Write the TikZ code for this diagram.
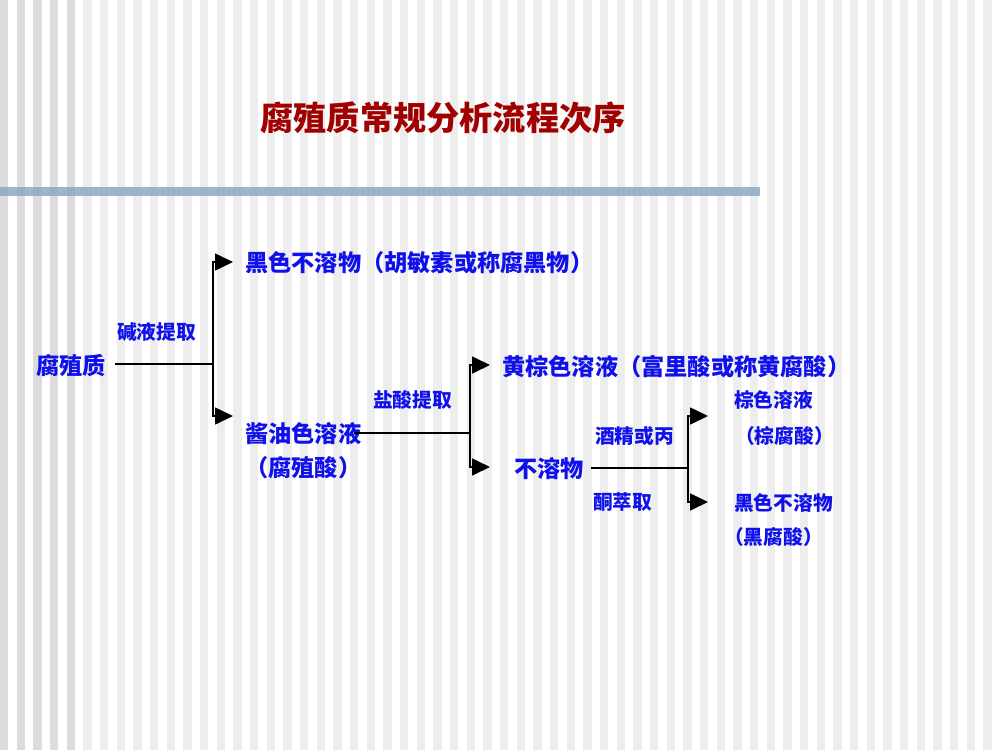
\documentclass[tikz,border=0pt]{standalone}
\usepackage{fontspec}
\newfontfamily\cjk{Noto Sans CJK SC}
\usetikzlibrary{arrows.meta}
\definecolor{txtblue}{RGB}{16,16,235}
\definecolor{titlered}{RGB}{160,0,0}
\definecolor{stripedark}{RGB}{220,220,220}
\definecolor{stripelight}{RGB}{237,237,237}
\definecolor{barblue}{RGB}{140,168,196}
\tikzset{
  main/.style={font=\cjk\bfseries\fontsize{23.2}{25}\selectfont, text=txtblue, inner sep=0pt, anchor=west},
  small/.style={font=\cjk\bfseries\fontsize{19.7}{21}\selectfont, text=txtblue, inner sep=0pt, anchor=west},
  titletext/.style={font=\cjk\bfseries\fontsize{33.2}{35}\selectfont, text=titlered, inner sep=0pt},
  conn/.style={line width=1.6pt, black},
  arr/.style={line width=1.6pt, black, -{Triangle[length=18pt,width=17pt]}},
}
\begin{document}
\begin{tikzpicture}[x=1pt,y=-1pt]
\useasboundingbox (0,0) rectangle (1000,750);
\fill[white] (0,0) rectangle (1000,750);
% stripes
\foreach \i in {0,...,59}{
  \pgfmathsetmacro{\xx}{\i*50/3}
  \ifnum\i<5
    \fill[stripedark] (\xx,0) rectangle ++(8.33,750);
  \else
    \fill[stripelight] (\xx,0) rectangle ++(8.33,750);
  \fi
}
% bar
\fill[barblue, opacity=0.85] (0,187) rectangle (760,196);
% title
\node[titletext] (title) at (443,118) {腐殖质常规分析流程次序};

% nodes
\node[main] (humus) at (36,366) {腐殖质};
\node[small] (alkali) at (117,332) {碱液提取};
\node[main] (blackins) at (245,263) {黑色不溶物（胡敏素或称腐黑物）};
\node[main] (soy) at (245,434) {酱油色溶液};
\node[main] (humic) at (245,468) {（腐殖酸）};
\node[small] (hcl) at (373,400) {盐酸提取};
\node[main] (yellow) at (502,367) {黄棕色溶液（富里酸或称黄腐酸）};
\node[main] (insol) at (514,469) {不溶物};
\node[small] (alc) at (595,436) {酒精或丙};
\node[small] (acet) at (593,502) {酮萃取};
\node[small] (brown) at (734,400) {棕色溶液};
\node[small] (brownacid) at (735,436) {（棕腐酸）};
\node[small] (black2) at (734,503) {黑色不溶物};
\node[small] (blackacid) at (724,537) {（黑腐酸）};

% split points and arrow ends
\coordinate (s1) at (213,364);
\coordinate (s2) at (470,433);
\coordinate (s3) at (688,468);
\coordinate (t1) at (233,262);
\coordinate (t2) at (233,416);
\coordinate (t3) at (490,365);
\coordinate (t4) at (490,467);
\coordinate (t5) at (708,416);
\coordinate (t6) at (708,502);

% connectors
\draw[conn] ([xshift=9pt]humus.east |- s1) -- (s1);
\draw[arr] (s1) |- (t1);
\draw[arr] (s1) |- (t2);
\draw[conn] ([xshift=-7pt]soy.east |- s2) -- (s2);
\draw[arr] (s2) |- (t3);
\draw[arr] (s2) |- (t4);
\draw[conn] ([xshift=7pt]insol.east |- s3) -- (s3);
\draw[arr] (s3) |- (t5);
\draw[arr] (s3) |- (t6);
\end{tikzpicture}
\end{document}
